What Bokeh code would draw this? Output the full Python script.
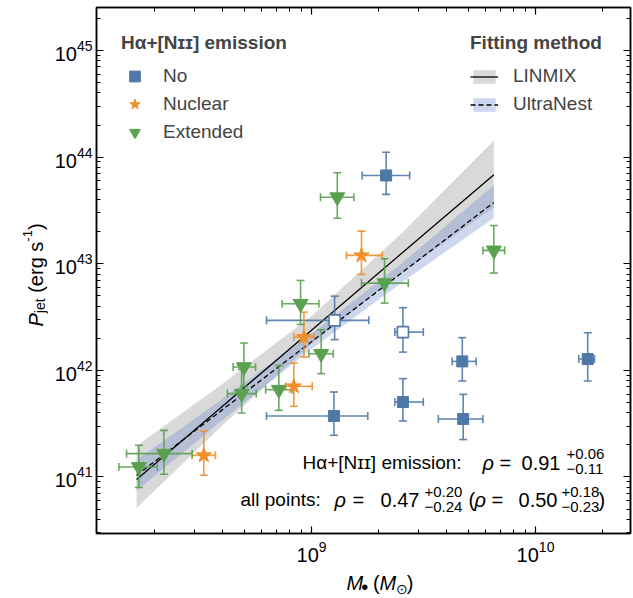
import numpy as np

from bokeh.embed import file_html
from bokeh.layouts import column, row
from bokeh.models import (CustomJSTickFormatter, FixedTicker, Label, Legend,
                          LegendItem, LogAxis, Range1d)
from bokeh.plotting import figure
from bokeh.resources import INLINE

FONT = "Liberation Sans"
BLUE = "#4e79a7"
ORANGE = "#f28e2b"
GREEN = "#59a14f"

# All values are log10 of black hole mass (Msun) and of jet power (erg/s),
# with the ends of the error bars.

# no H-alpha+[NII] emission (filled squares)
no_m = [9.333, 9.673, 10.233, 9.408, 9.677, 9.100]
no_m_lo = [9.226, 9.628, 10.193, 9.372, 9.566, 8.799]
no_m_hi = [9.438, 9.735, 10.263, 9.499, 9.765, 9.251]
no_p = [43.828, 42.084, 42.106, 41.703, 41.544, 41.572]
no_p_lo = [43.650, 41.900, 41.900, 41.525, 41.351, 41.391]
no_p_hi = [44.046, 42.307, 42.353, 41.922, 41.775, 41.797]

# no emission, open squares
open_m = [9.103, 9.408]
open_m_lo = [8.799, 9.372]
open_m_hi = [9.256, 9.499]
open_p = [42.469, 42.359]
open_p_lo = [42.288, 42.171]
open_p_hi = [42.696, 42.588]

# nuclear emission (stars)
nuc_m = [9.223, 8.966, 8.921, 8.519]
nuc_m_lo = [9.156, 8.921, 8.884, 8.467]
nuc_m_hi = [9.316, 9.010, 9.003, 8.571]
nuc_p = [43.078, 42.312, 41.850, 41.203]
nuc_p_lo = [42.900, 42.125, 41.663, 41.016]
nuc_p_hi = [43.306, 42.546, 42.068, 41.431]

# extended emission (triangles)
ext_m = [9.115, 9.326, 9.814, 8.951, 9.043, 8.698, 8.688, 8.854, 8.341, 8.229]
ext_m_lo = [9.040, 9.223, 9.765, 8.869, 8.988, 8.650, 8.624, 8.795, 8.174, 8.140]
ext_m_hi = [9.189, 9.432, 9.862, 9.033, 9.097, 8.750, 8.753, 8.914, 8.467, 8.311]
ext_p = [43.624, 42.818, 43.125, 42.625, 42.156, 42.031, 41.782, 41.819, 41.219, 41.094]
ext_p_lo = [43.427, 42.631, 42.912, 42.431, 41.969, 41.850, 41.600, 41.625, 41.025, 40.901]
ext_p_hi = [43.853, 43.047, 43.359, 42.843, 42.381, 42.256, 42.009, 42.047, 41.437, 41.297]

# fits to the emission sample and their bands
fit_m = [8.219, 8.6, 9.0, 9.4, 9.814]
linmix = [40.976, 41.659, 42.376, 43.093, 43.834]
linmix_lo = [40.71, 41.48, 42.25, 42.91, 43.53]
linmix_hi = [41.29, 41.87, 42.51, 43.28, 44.156]
ultranest = [41.016, 41.627, 42.269, 42.910, 43.575]
ultranest_lo = [40.87, 41.53, 42.20, 42.82, 43.43]
ultranest_hi = [41.16, 41.73, 42.34, 43.00, 43.735]

# correlation coefficients: value, upper, lower
rho_emission = ["0.91", "+0.06", "\u22120.11"]
rho_all = ["0.47", "+0.20", "\u22120.24"]
rho_all_alt = ["0.50", "+0.18", "\u22120.23"]

# axes
x_decades = [9, 10]
y_decades = [41, 42, 43, 44, 45]
x_lim = (8.040, 10.424)
y_lim = (40.470, 45.403)


def lin(a):
    return 10 ** np.asarray(a, dtype=float)


def minor_ticks(lim):
    out = []
    for k in range(int(np.floor(lim[0])), int(np.ceil(lim[1])) + 1):
        for m in range(2, 10):
            v = k + np.log10(m)
            if lim[0] < v < lim[1]:
                out.append(10 ** v)
    return out


fig = figure(width=585, height=570, x_axis_type="log", y_axis_type="log",
             x_range=Range1d(10 ** x_lim[0], 10 ** x_lim[1]),
             y_range=Range1d(10 ** y_lim[0], 10 ** y_lim[1]),
             output_backend="svg", toolbar_location=None,
             min_border_left=48, min_border_right=3, min_border_top=7,
             min_border_bottom=37)
fig.xgrid.visible = False
fig.ygrid.visible = False
fig.outline_line_color = "black"
fig.outline_line_width = 1.5

xticker = FixedTicker(ticks=[10.0 ** d for d in x_decades], minor_ticks=minor_ticks(x_lim))
yticker = FixedTicker(ticks=[10.0 ** d for d in y_decades], minor_ticks=minor_ticks(y_lim))

fig.add_layout(LogAxis(), "above")
fig.add_layout(LogAxis(), "right")
for ax in fig.xaxis:
    ax.ticker = xticker
for ax in fig.yaxis:
    ax.ticker = yticker
for ax in fig.axis:
    ax.axis_line_width = 1.5
    ax.major_tick_in = 7
    ax.major_tick_out = 0
    ax.minor_tick_in = 4
    ax.minor_tick_out = 0
    ax.major_tick_line_width = 1.2
    ax.major_label_text_font = FONT
    ax.major_label_text_font_size = "20px"
    ax.major_label_text_color = "black"
fig.below[0].major_label_standoff = 7
fig.left[0].major_label_standoff = 4
for ax in (fig.above[0], fig.right[0]):
    ax.formatter = CustomJSTickFormatter(code="return ''")
    ax.major_label_text_font_size = "0px"
    ax.major_label_standoff = 0

# fit bands and lines
grey_band = fig.varea(x=lin(fit_m), y1=lin(linmix_lo), y2=lin(linmix_hi),
                      fill_color="#d9d9d9")
blue_band = fig.varea(x=lin(fit_m), y1=lin(ultranest_lo), y2=lin(ultranest_hi),
                      fill_color="#6f8fd0", fill_alpha=0.35)
linmix_line = fig.line(lin(fit_m), lin(linmix), line_color="black", line_width=1.3)
un_line = fig.line(lin(fit_m), lin(ultranest), line_color="black", line_width=1.3,
                   line_dash="5 3")


def errorbars(m, m_lo, m_hi, pw, pw_lo, pw_hi, color):
    m, m_lo, m_hi = lin(m), lin(m_lo), lin(m_hi)
    pw, pw_lo, pw_hi = lin(pw), lin(pw_lo), lin(pw_hi)
    kw = dict(line_color=color, line_width=1.6, line_alpha=0.9)
    fig.segment(x0=m_lo, y0=pw, x1=m_hi, y1=pw, **kw)
    fig.segment(x0=m, y0=pw_lo, x1=m, y1=pw_hi, **kw)
    fig.scatter(np.concatenate([m_lo, m_hi]), np.concatenate([pw, pw]),
                marker="dash", size=8, angle=np.pi / 2, **kw)
    fig.scatter(np.concatenate([m, m]), np.concatenate([pw_lo, pw_hi]),
                marker="dash", size=8, **kw)


errorbars(no_m, no_m_lo, no_m_hi, no_p, no_p_lo, no_p_hi, BLUE)
errorbars(open_m, open_m_lo, open_m_hi, open_p, open_p_lo, open_p_hi, BLUE)
errorbars(nuc_m, nuc_m_lo, nuc_m_hi, nuc_p, nuc_p_lo, nuc_p_hi, ORANGE)
errorbars(ext_m, ext_m_lo, ext_m_hi, ext_p, ext_p_lo, ext_p_hi, GREEN)

no_r = fig.scatter(lin(no_m), lin(no_p), marker="square", size=11,
                   fill_color=BLUE, line_color=BLUE)
fig.scatter(lin(open_m), lin(open_p), marker="square", size=11,
            fill_color="white", line_color=BLUE, line_width=1.6)
nuc_r = fig.scatter(lin(nuc_m), lin(nuc_p), marker="star", size=16,
                    fill_color=ORANGE, line_color=ORANGE)
ext_r = fig.scatter(lin(ext_m), lin(ext_p), marker="inverted_triangle", size=15,
                    fill_color=GREEN, line_color=GREEN)

# legends
leg_emis = Legend(items=[LegendItem(label="No", renderers=[no_r]),
                         LegendItem(label="Nuclear", renderers=[nuc_r]),
                         LegendItem(label="Extended", renderers=[ext_r])],
                  title="H\u03b1+[N\u026a\u026a] emission", location=(25, 387),
                  glyph_width=27, glyph_height=28)
leg_fit = Legend(items=[LegendItem(label="LINMIX", renderers=[grey_band, linmix_line]),
                        LegendItem(label="UltraNest", renderers=[blue_band, un_line])],
                 title="Fitting method", location=(374, 415),
                 glyph_width=28, glyph_height=17)
for leg in (leg_emis, leg_fit):
    leg.title_text_font = FONT
    leg.title_text_font_style = "bold"
    leg.title_text_font_size = "19px"
    leg.label_text_font = FONT
    leg.label_text_font_size = "19px"
    leg.background_fill_alpha = 0
    leg.border_line_alpha = 0
    leg.padding = 0
    leg.margin = 0
    leg.spacing = 0
    leg.title_standoff = 8
    leg.label_standoff = 15
    leg.label_height = 28
    fig.add_layout(leg)

# Bokeh sets alphabetic text about this many pixels lower than asked
SHIFT = 6


def put(target, x, y, s, size=19, align="left", style="normal", angle=0.0):
    target.add_layout(Label(x=x, y=y, text=s, text_font=FONT,
                            text_font_size=f"{size}px", text_align=align,
                            text_baseline="alphabetic", text_font_style=style,
                            angle=angle, text_color="black"))


# correlation texts inside the frame, placed by page pixels
def pos(px, py):
    return (10 ** (x_lim[0] + (px - 96) / 224),
            10 ** (y_lim[0] + (533 - py + SHIFT) / 106.7))


def text(px, py, s, **kw):
    put(fig, *pos(px, py), s, **kw)


text(302, 468, "H\u03b1+[N\u026a\u026a] emission:")
text(482, 468, "\u03c1", size=20, style="italic")
text(499, 468, "=", size=20)
text(560, 468, rho_emission[0], size=20, align="right")
text(566, 459, rho_emission[1], size=15)
text(566, 474, rho_emission[2], size=15)

text(240, 505, "all points:")
text(334, 505, "\u03c1", size=20, style="italic")
text(352, 505, "=", size=20)
text(419, 505, rho_all[0], size=20, align="right")
text(424, 497, rho_all[1], size=15)
text(424, 512, rho_all[2], size=15)
text(468, 505, "(", size=20)
text(474, 505, "\u03c1", size=20, style="italic")
text(491, 505, "=", size=20)
text(557, 505, rho_all_alt[0], size=20, align="right")
text(561, 497, rho_all_alt[1], size=15)
text(561, 512, rho_all_alt[2], size=15)
text(598, 505, ")", size=20)


def strip(w, h, x0, y0):
    s = figure(width=w, height=h, x_range=Range1d(x0, x0 + w), y_range=Range1d(y0, y0 + h),
               x_axis_type=None, y_axis_type=None, output_backend="svg",
               toolbar_location=None, min_border=0, outline_line_color=None)
    s.grid.visible = False
    return s


# x axis label strip (page x 48..633, page y 570..598); y measured up from page bottom
xlab = strip(585, 28, 48, 0)
put(xlab, 322, 10 + SHIFT, "M", size=20, style="italic")
put(xlab, 338, 6 + SHIFT, "\u2022", size=20)
put(xlab, 351, 10 + SHIFT, "(", size=20)
put(xlab, 358, 10 + SHIFT, "M", size=20, style="italic")
put(xlab, 376, 4 + SHIFT, "\u2299", size=14)
put(xlab, 388, 10 + SHIFT, ")", size=20)

# y axis label strip (page x 0..48), rotated text reading upwards
ylab = strip(48, 598, 0, 0)
up = np.pi / 2
put(ylab, 41 - SHIFT, 598 - 326, "P", size=20, style="italic", angle=up)
put(ylab, 45 - SHIFT, 598 - 312.7, "jet", size=14, angle=up)
put(ylab, 41 - SHIFT, 598 - 292.3, "(erg s", size=20, angle=up)
put(ylab, 33 - SHIFT, 598 - 241.2, "-1", size=13, angle=up)
put(ylab, 41 - SHIFT, 598 - 229.6, ")", size=20, angle=up)

layout = row(ylab, column(fig, xlab))
open("out.html", "w").write(file_html(layout, INLINE))
